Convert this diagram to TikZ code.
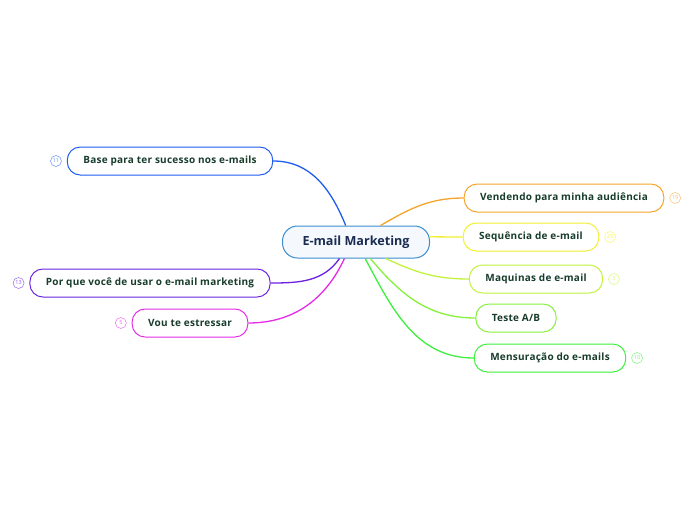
\documentclass[tikz,border=0pt]{standalone}
\usepackage{fontspec}
\setmainfont{Open Sans}
\usetikzlibrary{positioning}
\definecolor{txtgreen}{HTML}{183C2C}
\definecolor{navy}{HTML}{1A2B52}
\definecolor{mainblue}{HTML}{3A8DD0}
\definecolor{cblue}{HTML}{1E5CF0}
\definecolor{cpurple}{HTML}{6A22E0}
\definecolor{cmagenta}{HTML}{E62AE6}
\definecolor{corange}{HTML}{F5A428}
\definecolor{cyellow}{HTML}{F0F030}
\definecolor{clime}{HTML}{C2F23C}
\definecolor{clgreen}{HTML}{86F03A}
\definecolor{cgreen}{HTML}{3CF03C}
\tikzset{
topic/.style={
  draw=#1,
  fill=white,
  line width=1pt,
  rounded corners=13pt,
  minimum height=28pt,
  inner xsep=16pt,
  text=txtgreen,
  font=\fontsize{10}{12}\selectfont\bfseries\addfontfeature{LetterSpace=2.5}
  },
central/.style={
  draw=mainblue,
  fill=mainblue!5,
  line width=1pt,
  rounded corners=15pt,
  minimum height=32pt,
  inner xsep=20pt,
  text=navy,
  font=\fontsize{12.6}{14}\selectfont\bfseries
  },
badge/.style={
  draw=#1!60,
  text=#1!75,
  circle,
  line width=0.6pt,
  minimum size=11pt,
  inner sep=0pt,
  font=\fontsize{5.5}{6}\selectfont
  },
branch/.style={
  draw=#1,
  line width=1.3pt
  }
}

\begin{document}
\begin{tikzpicture}[x=1pt,y=1pt]

\useasboundingbox (0,0) rectangle (696,-520);

\node[central] (em) at (356,-242) {E-mail Marketing};

% left side
\node[topic=cblue] (base) at (170,-161) {Base para ter sucesso nos e-mails};
\node[topic=cpurple] (porque) at (150,-283) {Por que você de usar o e-mail marketing};
\node[topic=cmagenta] (vou) at (190,-323) {Vou te estressar};

% right side
\node[topic=corange] (vend) at (564,-198) {Vendendo para minha audiência};
\node[topic=cyellow] (seq) at (531,-237) {Sequência de e-mail};
\node[topic=clime] (maq) at (536,-279) {Maquinas de e-mail};
\node[topic=clgreen] (teste) at (516,-318) {Teste A/B};
\node[topic=cgreen] (mens) at (550,-358) {Mensuração do e-mails};

\node[badge=cblue,left=5pt of base] (bbase) {11};
\node[badge=cpurple,left=5pt of porque] (bporque) {13};
\node[badge=cmagenta,left=5pt of vou] (bvou) {5};
\node[badge=corange,right=5pt of vend] (bvend) {19};
\node[badge=cyellow,right=5pt of seq] (bseq) {29};
\node[badge=clime,right=5pt of maq] (bmaq) {3};
\node[badge=cgreen,right=5pt of mens] (bmens) {10};

\draw[branch=cblue] (em.122) to[out=112,in=0] (base.east);
\draw[branch=cpurple] (em.225) to[out=235,in=0] (porque.east);
\draw[branch=cmagenta] (em.235) to[out=245,in=0] (vou.east);
\draw[branch=corange] (em.34) to[out=30,in=180] (vend.west);
\draw[branch=cyellow] (em.4) to[out=0,in=180] (seq.west);
\draw[branch=clime] (em.331) to[out=-25,in=180] (maq.west);
\draw[branch=clgreen] (em.311) to[out=-50,in=180] (teste.west);
\draw[branch=cgreen] (em.299) to[out=-62,in=180] (mens.west);

\end{tikzpicture}
\end{document}
